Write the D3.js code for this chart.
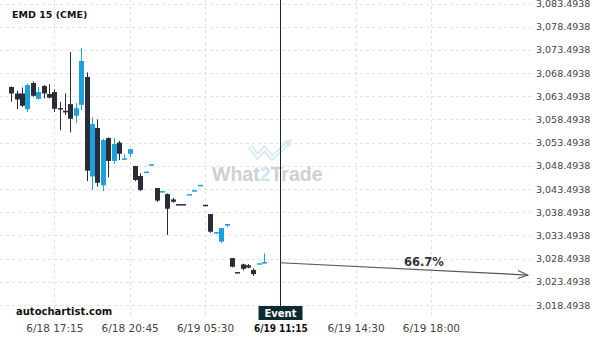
<!DOCTYPE html>
<html>
<head>
<meta charset="utf-8">
<script src="https://cdn.jsdelivr.net/npm/d3@7"></script>
<style>
  body { margin: 0; background: #fff; }
  svg { display: block; font-family: "DejaVu Sans", sans-serif; }
</style>
</head>
<body>
<svg id="chart" width="600" height="340"></svg>
<script>
const symbol = 'EMD 15 (CME)';
const source = 'autochartist.com';

// 15-minute candles
const opens  = [3065.5, 3064.1, 3064.1, 3060.7, 3066.35, 3062.95, 3065.7, 3064.0, 3064.4, 3060.95,
                3060.35, 3061.8, 3059.3, 3061.65, 3067.65, 3046.2, 3056.65, 3044.3, 3054.5, 3049.55,
                3053.5, 3049.95, 3051.1, 3048.45, 3046.3, 3047.15, 3048.75, 3043.7, 3042.95, 3042.4,
                3041.25, 3040.25, 3040.25, 3042.3, 3043.15, 3044.3, 3040.1, 3038.1, 3034.1, 3032.15,
                3035.6, 3028.6, 3025.6, 3027.25, 3027.05, 3026.05, 3027.4, 3027.65];
const highs  = [3065.6, 3064.7, 3065.4, 3066.2, 3066.7, 3065.55, 3065.9, 3066.1, 3065.0, 3062.25,
                3064.1, 3073.0, 3062.0, 3073.85, 3068.65, 3058.95, 3058.5, 3054.3, 3054.6, 3054.5,
                3053.9, 3051.0, 3052.2, 3048.5, 3046.9, 3047.25, 3048.85, 3043.75, 3043.05, 3042.55,
                3041.6, 3040.25, 3040.25, 3042.4, 3043.25, 3044.4, 3040.1, 3038.1, 3034.2, 3035.1,
                3035.95, 3028.6, 3025.6, 3027.4, 3027.3, 3026.4, 3027.5, 3029.65];
const lows   = [3062.3, 3060.7, 3061.2, 3060.1, 3063.4, 3062.8, 3063.05, 3063.05, 3060.1, 3056.15,
                3059.45, 3055.7, 3057.7, 3060.5, 3045.2, 3043.3, 3044.0, 3043.05, 3046.0, 3048.9,
                3049.75, 3049.85, 3050.45, 3045.2, 3043.05, 3047.15, 3048.75, 3040.7, 3042.95, 3033.6,
                3040.55, 3040.15, 3040.15, 3042.3, 3043.15, 3044.3, 3040.0, 3034.05, 3033.8, 3031.9,
                3035.35, 3026.6, 3025.5, 3025.95, 3026.4, 3024.75, 3027.4, 3027.45];
const closes = [3064.1, 3062.8, 3061.45, 3065.9, 3063.6, 3064.4, 3064.1, 3063.2, 3060.8, 3060.85,
                3060.25, 3058.65, 3060.9, 3071.1, 3047.45, 3057.5, 3044.85, 3054.05, 3049.55, 3053.2,
                3051.1, 3050.1, 3052.1, 3045.45, 3043.3, 3047.25, 3048.85, 3041.0, 3043.05, 3039.25,
                3040.75, 3040.15, 3040.15, 3042.4, 3043.25, 3044.4, 3040.0, 3034.3, 3034.2, 3035.1,
                3035.95, 3026.75, 3025.5, 3026.3, 3026.55, 3025.15, 3027.5, 3027.75];

const xTickIdx    = [8, 22, 36, 50, 64, 78];
const xTickLabels = ['6/18 17:15', '6/18 20:45', '6/19 05:30', '6/19 11:15', '6/19 14:30', '6/19 18:00'];
const yTicks = [3018.4938, 3023.4938, 3028.4938, 3033.4938, 3038.4938, 3043.4938, 3048.4938,
                3053.4938, 3058.4938, 3063.4938, 3068.4938, 3073.4938, 3078.4938, 3083.4938];

const eventIdx = 50;
const forecastIdx = [50, 96];
const forecastPrice = [3027.6, 3024.95];
const probability = '66.7%';

const svg = d3.select('#chart');
const plotRight = 532;
const gridBottom = 318;

const x = d3.scaleLinear().domain([0, 96]).range([11.3, 527.8]);
const y = d3.scaleLinear().domain([3018.4938, 3083.4938]).range([305, 3.5]);
const px = v => Math.round(v) + 0.5;

// grid
svg.append('g').selectAll('line')
    .data(yTicks)
    .join('line')
    .attr('x1', 0).attr('x2', plotRight)
    .attr('y1', d => px(y(d))).attr('y2', d => px(y(d)))
    .attr('stroke', '#e2e2e2')
    .attr('stroke-dasharray', '3,3');

svg.append('g').selectAll('line')
    .data(xTickIdx)
    .join('line')
    .attr('x1', d => px(x(d))).attr('x2', d => px(x(d)))
    .attr('y1', 0).attr('y2', gridBottom)
    .attr('stroke', '#e2e2e2')
    .attr('stroke-dasharray', '3,3');

// watermark
const wm = svg.append('g').attr('opacity', 1);
const logo = [[250, 146], [257.5, 156.5], [264.5, 148.5], [272, 158], [288, 143]];
wm.append('path')
    .attr('d', d3.line()(logo))
    .attr('fill', 'none')
    .attr('stroke', '#d4eaf6')
    .attr('stroke-width', 5)
    .attr('stroke-linejoin', 'miter');
wm.append('path')
    .attr('d', d3.line()(logo))
    .attr('fill', 'none')
    .attr('stroke', '#fff')
    .attr('stroke-width', 1.5);
wm.append('path')
    .attr('d', 'M283,141 L292,139 L290,148 Z')
    .attr('fill', '#d4eaf6');
const wmText = wm.append('text')
    .attr('x', 212).attr('y', 181)
    .attr('font-family', '"Liberation Sans", Arial, sans-serif')
    .attr('font-weight', 'bold')
    .attr('font-size', 19.5)
    .attr('fill', '#d0d0d0');
wmText.append('tspan').text('What');
wmText.append('tspan').attr('fill', '#cfe6f4').text('2');
wmText.append('tspan').text('Trade');

// candles
const candles = opens.map((o, i) => ({ i, o, h: highs[i], l: lows[i], c: closes[i] }));
const colorOf = d => d.c >= d.o ? '#1ba1de' : '#2a2c37';

const cg = svg.append('g');
cg.selectAll('line')
    .data(candles)
    .join('line')
    .attr('x1', d => px(x(d.i))).attr('x2', d => px(x(d.i)))
    .attr('y1', d => y(d.h)).attr('y2', d => y(d.l))
    .attr('stroke', colorOf);
cg.selectAll('rect')
    .data(candles)
    .join('rect')
    .attr('x', d => Math.round(x(d.i)) - 2)
    .attr('width', 5)
    .attr('y', d => y(Math.max(d.o, d.c)))
    .attr('height', d => Math.max(1.5, Math.abs(y(d.o) - y(d.c))))
    .attr('fill', colorOf);

// event marker
svg.append('line')
    .attr('x1', px(x(eventIdx))).attr('x2', px(x(eventIdx)))
    .attr('y1', 0).attr('y2', 307)
    .attr('stroke', '#0c2b31');

// forecast arrow
svg.append('defs').append('marker')
    .attr('id', 'arrow')
    .attr('viewBox', '0 0 12 10')
    .attr('refX', 11).attr('refY', 5)
    .attr('markerWidth', 12).attr('markerHeight', 10)
    .attr('markerUnits', 'userSpaceOnUse')
    .attr('orient', 'auto')
    .append('path')
    .attr('d', 'M1,1 L11,5 L1,9')
    .attr('fill', 'none')
    .attr('stroke', '#555')
    .attr('stroke-width', 1.2);

const p0 = [x(forecastIdx[0]), y(forecastPrice[0])];
const p1 = [x(forecastIdx[1]), y(forecastPrice[1])];
svg.append('line')
    .attr('x1', p0[0]).attr('y1', p0[1])
    .attr('x2', p1[0]).attr('y2', p1[1])
    .attr('stroke', '#555')
    .attr('stroke-width', 1.2)
    .attr('marker-end', 'url(#arrow)');

const lp = d3.interpolateArray(p0, p1)(0.58);
svg.append('text')
    .attr('x', lp[0]).attr('y', lp[1] - 4)
    .attr('text-anchor', 'middle')
    .attr('font-weight', 'bold')
    .attr('font-size', 11.5)
    .attr('fill', '#333')
    .text(probability);

// y axis
const yAxis = svg.append('g')
    .attr('transform', `translate(${plotRight + 3},0)`)
    .call(d3.axisRight(y).tickValues(yTicks).tickSize(0).tickPadding(1).tickFormat(d3.format(',.4f')));
yAxis.select('.domain').remove();
yAxis.selectAll('text')
    .attr('font-family', '"DejaVu Sans", sans-serif')
    .attr('font-size', 9.5)
    .attr('fill', '#444');

// x axis
const xAxis = svg.append('g')
    .attr('transform', 'translate(0,322)')
    .call(d3.axisBottom(x).tickValues(xTickIdx).tickSize(0).tickPadding(3)
        .tickFormat((d, i) => xTickLabels[i]));
xAxis.select('.domain').remove();
xAxis.selectAll('text')
    .attr('font-family', '"DejaVu Sans", sans-serif')
    .attr('font-size', 10.5)
    .attr('fill', '#444');
xAxis.selectAll('text')
    .filter(d => d === eventIdx)
    .attr('font-family', '"DejaVu Sans Condensed", "DejaVu Sans", sans-serif')
    .attr('font-stretch', 'condensed')
    .attr('font-weight', 'bold')
    .attr('font-size', 10)
    .attr('fill', '#111');

// event tag
const tag = svg.append('g').attr('transform', `translate(${px(x(eventIdx))},313)`);
tag.append('rect')
    .attr('x', -22).attr('y', -7)
    .attr('width', 44).attr('height', 14)
    .attr('fill', '#0d2a30');
tag.append('text')
    .attr('y', 4)
    .attr('text-anchor', 'middle')
    .attr('font-weight', 'bold')
    .attr('font-size', 10)
    .attr('fill', '#fff')
    .text('Event');

// labels
svg.append('text')
    .attr('x', 12).attr('y', 17.5)
    .attr('font-weight', 'bold')
    .attr('font-size', 9.5)
    .attr('fill', '#111')
    .text(symbol);

svg.append('text')
    .attr('x', 16).attr('y', 315)
    .attr('font-weight', 'bold')
    .attr('font-size', 10)
    .attr('fill', '#111')
    .text(source);
</script>
</body>
</html>
